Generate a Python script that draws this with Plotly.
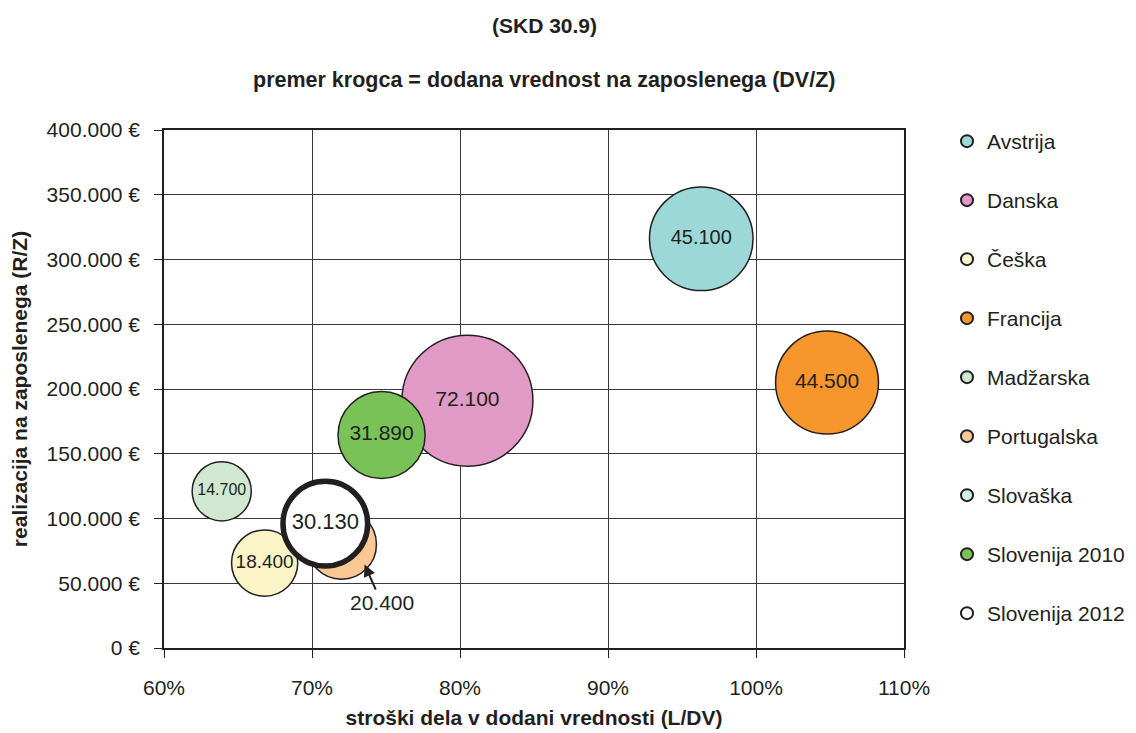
import plotly.graph_objects as go

# ---- data ----
countries = ["Avstrija", "Danska", "Češka", "Francija", "Madžarska",
             "Portugalska", "Slovaška", "Slovenija 2010", "Slovenija 2012"]
labor_cost_pct = [96.3, 80.5, 66.8, 104.8, 63.9, 72.0, None, 74.7, 70.9]      # L/DV (%)
revenue_per_emp = [316000, 191000, 65600, 205000, 121000, 80000, None, 164500, 96000]  # R/Z (€)
value_added_per_emp = [45100, 72100, 18400, 44500, 14700, 20400, None, 31890, 30130]    # DV/Z (€)
bubble_labels = ["45.100", "72.100", "18.400", "44.500", "14.700", "20.400", "", "31.890", "30.130"]

x_ticks = [60, 70, 80, 90, 100, 110]
y_ticks = [0, 50000, 100000, 150000, 200000, 250000, 300000, 350000, 400000]
x_ticktext = [f"{v}%" for v in x_ticks]
y_ticktext = [f"{v:,}".replace(",", ".") + " €" for v in y_ticks]

# ---- styles ----
FONT = "Liberation Sans, Arial, sans-serif"
INK = "#231f20"
fill_colors = ["#9dd8d8", "#e09ac5", "#faf4c6", "#f7962c", "#d0e8d0",
               "#f9c895", "#d4eeee", "#79c257", "#ffffff"]
line_widths = [1.5, 1.5, 1.5, 1.5, 1.5, 1.5, 1.5, 1.5, 5.5]
label_sizes = [20, 21, 19, 21, 16, 21, 20, 21, 22]
show_inner_label = [True, True, True, True, True, False, False, True, True]

# page body has an 8px margin -> figure is 8px smaller and offset
W, H = 1128, 725
L, T, R, B = 156, 122, 232, 85
PW, PH = W - L - R, H - T - B

max_diam = 131
sizeref = 2.0 * max(v for v in value_added_per_emp if v) / (max_diam ** 2)

fig = go.Figure()
for i, name in enumerate(countries):
    has = labor_cost_pct[i] is not None
    fig.add_trace(go.Scatter(
        x=[labor_cost_pct[i]], y=[revenue_per_emp[i]], name=name, legendgroup=name,
        mode="markers+text",
        text=[bubble_labels[i]] if (show_inner_label[i] and has) else None,
        textposition="middle center",
        textfont=dict(family=FONT, size=label_sizes[i], color=INK),
        marker=dict(size=[value_added_per_emp[i] if has else 1], sizemode="area", sizeref=sizeref,
                    color=fill_colors[i], opacity=1,
                    line=dict(color=INK, width=line_widths[i])),
        hoverinfo="name",
    ))

# label for Portugalska with arrow pointing at its lower-right edge
pi = countries.index("Portugalska")
fig.add_annotation(
    x=labor_cost_pct[pi] + 1.55, y=revenue_per_emp[pi] - 15500, xref="x", yref="y",
    text=bubble_labels[pi], showarrow=True, arrowhead=2, arrowsize=1.2, arrowwidth=2,
    arrowcolor=INK, ax=17, ay=38,
    font=dict(family=FONT, size=21, color=INK),
)

# titles
cx = (536 - L) / PW
fig.add_annotation(x=cx, y=1.0 + (T - 18) / PH, xref="paper", yref="paper",
                   xanchor="center", yanchor="middle",
                   text="<b>(SKD 30.9)</b>", showarrow=False,
                   font=dict(family=FONT, size=21, color=INK))
fig.add_annotation(x=cx, y=1.0 + (T - 72) / PH, xref="paper", yref="paper",
                   xanchor="center", yanchor="middle",
                   text="<b>premer krogca = dodana vrednost na zaposlenega (DV/Z)</b>", showarrow=False,
                   font=dict(family=FONT, size=21.5, color=INK))

axis_font = dict(family=FONT, size=21, color=INK)

fig.update_layout(
    width=W, height=H,
    margin=dict(l=L, r=R, t=T, b=B, autoexpand=False),
    paper_bgcolor="white", plot_bgcolor="white",
    showlegend=True,
    legend=dict(x=(939 - L) / PW, y=1.0 + (T + 8 - 121) / PH, xanchor="left", yanchor="top",
                font=dict(family=FONT, size=21, color=INK),
                itemsizing="constant", tracegroupgap=28.7, bgcolor="rgba(0,0,0,0)",
                maxheight=720),
    xaxis=dict(range=[60, 110], tickmode="array", tickvals=x_ticks, ticktext=x_ticktext,
               automargin=False,
               showgrid=True, gridcolor="#3a3a3a", gridwidth=1,
               showline=True, linecolor=INK, linewidth=2, mirror=True,
               ticks="outside", ticklen=8, tickcolor=INK, ticklabelstandoff=12,
               tickfont=axis_font, zeroline=False,
               title=dict(text="<b>stroški dela v dodani vrednosti (L/DV)</b>",
                          font=dict(family=FONT, size=21, color=INK), standoff=12)),
    yaxis=dict(range=[0, 400000], tickmode="array", tickvals=y_ticks, ticktext=y_ticktext,
               automargin=False,
               showgrid=True, gridcolor="#3a3a3a", gridwidth=1,
               showline=True, linecolor=INK, linewidth=1.5, mirror=True,
               ticks="outside", ticklen=8, tickcolor=INK, ticklabelstandoff=10,
               tickfont=axis_font, zeroline=False,
               title=dict(text="<b>realizacija na zaposlenega (R/Z)</b>",
                          font=dict(family=FONT, size=21, color=INK), standoff=14)),
)

fig.write_html("out.html")
